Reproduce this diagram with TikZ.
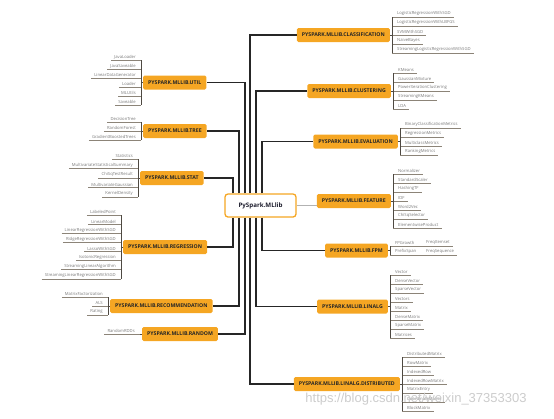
\documentclass[tikz,border=0pt]{standalone}
\usepackage{fontspec}
\setmainfont{Open Sans}
\newfontfamily\wmfont{Liberation Sans}
\usetikzlibrary{positioning}

\definecolor{branchorange}{HTML}{F5A623}
\definecolor{leafgray}{HTML}{7A7A7A}
\definecolor{undergray}{HTML}{8C8478}
\definecolor{twiggray}{HTML}{4E4942}
\definecolor{hubtext}{HTML}{1E1E2E}

\tikzset{
    hub/.style={draw=branchorange, line width=1.3pt, fill=white, rounded corners=3pt,
        minimum width=71pt, minimum height=23pt,
        font=\bfseries\fontsize{6.2}{7}\selectfont, text=hubtext},
    branch/.style={fill=branchorange, rounded corners=1.5pt, minimum height=14pt,
        inner xsep=5pt, inner ysep=0pt,
        font=\bfseries\fontsize{5.2}{6}\selectfont, text=black!85},
    leaf/.style={inner xsep=0pt, inner ysep=0.9pt,
        font=\fontsize{4.2}{5}\selectfont, text=leafgray},
    leafR/.style={leaf, anchor=south west,
        execute at begin node=\hspace*{5pt}, execute at end node=\hspace*{3pt}},
    leafL/.style={leaf, anchor=south east,
        execute at begin node=\hspace*{3pt}, execute at end node=\hspace*{5pt}},
    under/.style={draw=undergray, line width=1pt},
    twig/.style={draw=twiggray, line width=0.9pt},
    trunk/.style={draw=black!85, line width=1.3pt},
    feed/.style={draw=black!30, line width=1pt},
    wmark/.style={font=\wmfont\fontsize{13}{15}\selectfont, text=black!20}
}

\begin{document}
\begin{tikzpicture}[x=1pt, y=-1pt]
            \useasboundingbox (0,0) rectangle (554,418);

            \node[hub] (mllib) at (260.5, 205.5) {PySpark.MLlib};

            % right side
            \node[branch, anchor=east] (cls) at (390, 35) {PYSPARK.MLLIB.CLASSIFICATION};
            \node[branch, anchor=east] (clu) at (391, 91) {PYSPARK.MLLIB.CLUSTERING};
            \node[branch, anchor=east] (eva) at (398, 141.5) {PYSPARK.MLLIB.EVALUATION};
            \node[branch, anchor=east] (fea) at (391, 201) {PYSPARK.MLLIB.FEATURE};
            \node[branch, anchor=east] (fpm) at (388, 250.5) {PYSPARK.MLLIB.FPM};
            \node[branch, anchor=east] (lin) at (388, 306.5) {PYSPARK.MLLIB.LINALG};
            \node[branch, anchor=east] (dis) at (400, 384) {PYSPARK.MLLIB.LINALG.DISTRIBUTED};

            % left side
            \node[branch, anchor=west] (utl) at (143, 82.5) {PYSPARK.MLLIB.UTIL};
            \node[branch, anchor=west] (tre) at (143, 131) {PYSPARK.MLLIB.TREE};
            \node[branch, anchor=west] (sta) at (140, 178) {PYSPARK.MLLIB.STAT};
            \node[branch, anchor=west] (reg) at (123, 247) {PYSPARK.MLLIB.REGRESSION};
            \node[branch, anchor=west] (rec) at (110, 306) {PYSPARK.MLLIB.RECOMMENDATION};
            \node[branch, anchor=west] (rnd) at (142, 334) {PYSPARK.MLLIB.RANDOM};

            % trunk lines from the hub
            \draw[trunk] ([xshift=-27.5pt]mllib.north) |- (sta.east);
            \draw[trunk] ([xshift=-21.5pt]mllib.north) |- (tre.east);
            \draw[trunk] ([xshift=-15.5pt]mllib.north) |- (utl.east);
            \draw[trunk] ([xshift=-10.5pt]mllib.north) |- (cls.west);
            \draw[trunk] ([xshift=-4.5pt]mllib.north) |- (clu.west);
            \draw[trunk] ([xshift=1.5pt]mllib.north) |- (eva.west);
            \draw[trunk] ([xshift=-27.5pt]mllib.south) |- (reg.east);
            \draw[trunk] ([xshift=-21.5pt]mllib.south) |- (rec.east);
            \draw[trunk] ([xshift=-15.5pt]mllib.south) |- (rnd.east);
            \draw[trunk] ([xshift=-10.5pt]mllib.south) |- (dis.west);
            \draw[trunk] ([xshift=-4.5pt]mllib.south) |- (lin.west);
            \draw[trunk] ([xshift=1.5pt]mllib.south) |- (fpm.west);
            \draw[feed] (mllib.east) -- (mllib.east -| fea.west);

            % classification
            \foreach \t [count=\i from 0] in {LogisticRegressionWithSGD, LogisticRegressionWithLBFGS,
                    SVMWithSGD, NaiveBayes, StreamingLogisticRegressionWithSGD} {
                \node[leafR] (cls\i) at (392, 17+9*\i) {\t};
                \draw[under] (cls\i.south west) -- (cls\i.south east);
            }
            \draw[twig] (cls0.south west) -- (cls4.south west);
            \draw[twig] (cls.east) -- (cls.east -| cls0.south west);

            % clustering
            \foreach \t [count=\i from 0] in {KMeans, GaussianMixture, PowerIterationClustering,
                    StreamingKMeans, LDA} {
                \node[leafR] (clu\i) at (393, 73+9*\i) {\t};
                \draw[under] (clu\i.south west) -- (clu\i.south east);
            }
            \draw[twig] (clu0.south west) -- (clu4.south west);
            \draw[twig] (clu.east) -- (clu.east -| clu0.south west);

            % evaluation
            \foreach \t [count=\i from 0] in {BinaryClassificationMetrics, RegressionMetrics,
                    MulticlassMetrics, RankingMetrics} {
                \node[leafR] (eva\i) at (400, 128+9*\i) {\t};
                \draw[under] (eva\i.south west) -- (eva\i.south east);
            }
            \draw[twig] (eva0.south west) -- (eva3.south west);
            \draw[twig] (eva.east) -- (eva.east -| eva0.south west);

            % feature
            \foreach \t [count=\i from 0] in {Normalizer, StandardScaler, HashingTF, IDF, Word2Vec,
                    ChiSqSelector, ElementwiseProduct} {
                \node[leafR] (fea\i) at (393, 174+9*\i) {\t};
                \draw[under] (fea\i.south west) -- (fea\i.south east);
            }
            \draw[twig] (fea0.south west) -- (fea6.south west);
            \draw[twig] (fea.east) -- (fea.east -| fea0.south west);

            % fpm
            \foreach \t/\c [count=\i from 0] in {FPGrowth/FreqItemset, PrefixSpan/FreqSequence} {
                \node[leafR] (fpm\i) at (390, 246+9*\i) {\t};
                \node[leafR] (fpmc\i) at (421, 246+9*\i) {\c};
                \draw[under] (fpm\i.south west) -- (fpmc\i.south east);
            }
            \draw[twig] (fpm0.south west) -- (fpm1.south west);
            \draw[twig] (fpm.east) -- (fpm.east -| fpm0.south west);

            % linalg
            \foreach \t [count=\i from 0] in {Vector, DenseVector, SparseVector, Vectors, Matrix,
                    DenseMatrix, SparseMatrix, Matrices} {
                \node[leafR] (lin\i) at (390, 275+9*\i) {\t};
                \draw[under] (lin\i.south west) -- (lin\i.south east);
            }
            \draw[twig] (lin0.south west) -- (lin7.south west);
            \draw[twig] (lin.east) -- (lin.east -| lin0.south west);

            % linalg.distributed
            \foreach \t [count=\i from 0] in {DistributedMatrix, RowMatrix, IndexedRow,
                    IndexedRowMatrix, MatrixEntry, CoordinateMatrix, BlockMatrix} {
                \node[leafR] (dis\i) at (402, 357+9*\i) {\t};
                \draw[under] (dis\i.south west) -- (dis\i.south east);
            }
            \draw[twig] (dis0.south west) -- (dis6.south west);
            \draw[twig] (dis.east) -- (dis.east -| dis0.south west);

            % util
            \foreach \t [count=\i from 0] in {JavaLoader, JavaSaveable, LinearDataGenerator,
                    Loader, MLUtils, Saveable} {
                \node[leafL] (utl\i) at (141, 60+9*\i) {\t};
                \draw[under] (utl\i.south west) -- (utl\i.south east);
            }
            \draw[twig] (utl0.south east) -- (utl5.south east);
            \draw[twig] (utl.west) -- (utl.west -| utl0.south east);

            % tree
            \foreach \t [count=\i from 0] in {DecisionTree, RandomForest, GradientBoostedTrees} {
                \node[leafL] (tre\i) at (141, 122+9*\i) {\t};
                \draw[under] (tre\i.south west) -- (tre\i.south east);
            }
            \draw[twig] (tre0.south east) -- (tre2.south east);
            \draw[twig] (tre.west) -- (tre.west -| tre0.south east);

            % stat
            \foreach \t [count=\i from 0] in {Statistics, MultivariateStatisticalSummary,
                    ChiSqTestResult, MultivariateGaussian, KernelDensity} {
                \node[leafL] (sta\i) at (138, 159+9.5*\i) {\t};
                \draw[under] (sta\i.south west) -- (sta\i.south east);
            }
            \draw[twig] (sta0.south east) -- (sta4.south east);
            \draw[twig] (sta.west) -- (sta.west -| sta0.south east);

            % regression
            \foreach \t [count=\i from 0] in {LabeledPoint, LinearModel, LinearRegressionWithSGD,
                    RidgeRegressionWithSGD, LassoWithSGD, IsotonicRegression,
                    StreamingLinearAlgorithm, StreamingLinearRegressionWithSGD} {
                \node[leafL] (reg\i) at (121, 215+9.15*\i) {\t};
                \draw[under] (reg\i.south west) -- (reg\i.south east);
            }
            \draw[twig] (reg0.south east) -- (reg7.south east);
            \draw[twig] (reg.west) -- (reg.west -| reg0.south east);

            % recommendation
            \foreach \t [count=\i from 0] in {MatrixFactorization, ALS, Rating} {
                \node[leafL] (rec\i) at (108, 297+9*\i) {\t};
                \draw[under] (rec\i.south west) -- (rec\i.south east);
            }
            \draw[twig] (rec0.south east) -- (rec2.south east);
            \draw[twig] (rec.west) -- (rec.west -| rec0.south east);

            % random
            \node[leafL] (rnd0) at (140, 334) {RandomRDDs};
            \draw[under] (rnd0.south west) -- (rnd0.south east);
            \draw[twig] (rnd.west) -- (rnd.west -| rnd0.south east);

            \node[wmark] (wm) at (416, 399) {https://blog.csdn.net/weixin\_37353303};
        \end{tikzpicture}
\end{document}
